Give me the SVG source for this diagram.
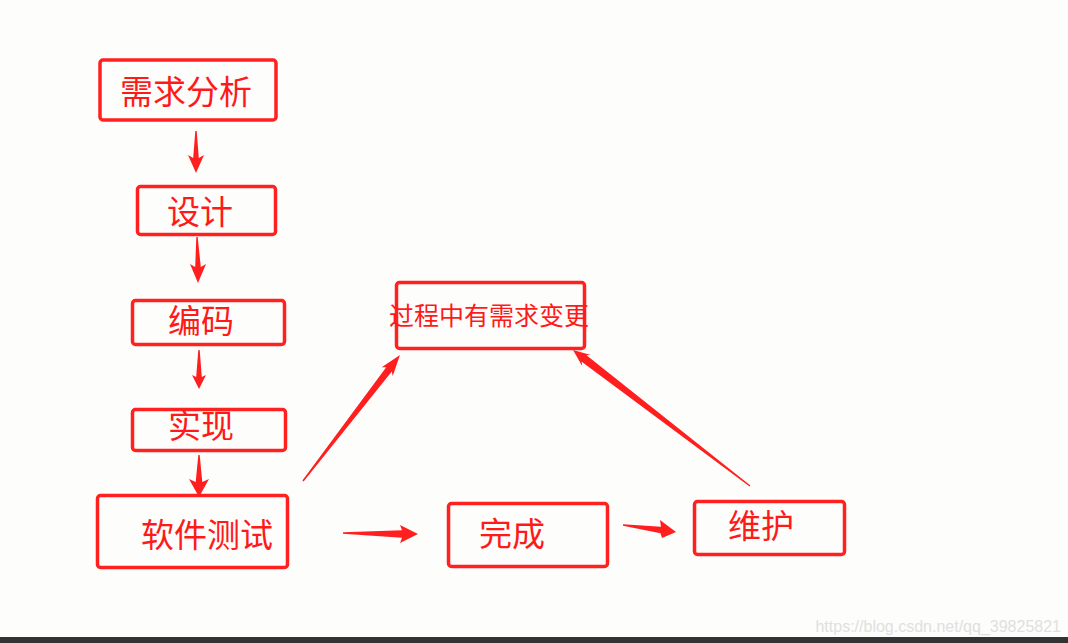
<svg xmlns="http://www.w3.org/2000/svg" width="1068" height="643" viewBox="0 0 1068 643">
<style>
.box{fill:none;stroke:#ff2020;stroke-width:3.5;}
.lbl{fill:#ff1a1a;font-family:"Noto Sans CJK SC","Noto Sans",sans-serif;font-size:33px;text-anchor:middle;dominant-baseline:central;}
.arr{fill:#ff1f1f;}
</style>
<rect x="0" y="0" width="1068" height="643" fill="#fdfdfb"/>
<rect x="0" y="637" width="1068" height="6" fill="#333333"/>
<g id="n1"><rect class="box" x="100" y="60" width="176" height="60" rx="3"/><text class="lbl" x="186" y="90">需求分析</text></g>
<g id="n2"><rect class="box" x="137.5" y="186.5" width="138" height="48" rx="3"/><text class="lbl" x="200" y="210">设计</text></g>
<g id="n3"><rect class="box" x="132.5" y="300.5" width="152" height="44" rx="3"/><text class="lbl" x="201" y="319">编码</text></g>
<g id="n4"><rect class="box" x="132.5" y="409.5" width="153" height="41" rx="3"/><text class="lbl" x="201" y="424">实现</text></g>
<g id="n5"><rect class="box" x="97.5" y="495.5" width="190" height="72" rx="3"/><text class="lbl" x="207" y="533">软件测试</text></g>
<g id="n6"><rect class="box" x="396.5" y="282.5" width="188" height="66" rx="3"/><text class="lbl" x="489" y="314" style="font-size:25px">过程中有需求变更</text></g>
<g id="n7"><rect class="box" x="448.5" y="503.5" width="159" height="63" rx="3"/><text class="lbl" x="512" y="532">完成</text></g>
<g id="n8"><rect class="box" x="694.5" y="501.5" width="150" height="53" rx="3"/><text class="lbl" x="761" y="524">维护</text></g>
<g id="connectors">
<polygon class="arr" points="195.3,131 196.7,131 198.8,158 204,155 196,173 188,155 193.2,158"/>
<polygon class="arr" points="196.3,237 197.7,237 200.8,267 206,264 198,283 190,264 195.2,267"/>
<polygon class="arr" points="198.3,350 199.7,350 201.8,377 206,375 199,389 192,375 196.2,377"/>
<polygon class="arr" points="198.3,455 199.7,455 202.3,482 209,479 199,497 189,479 195.7,482"/>
<polygon class="arr" points="303.6,481.4 391.8,371.4 392.7,375.9 400,355 381.7,367.3 386.2,367.2 302.4,480.6"/>
<polygon class="arr" points="750.4,485.5 586.5,355.3 590.8,354.9 573,350 582.2,366 581.7,361.7 749.6,486.5"/>
<polygon class="arr" points="343,532.3 402,530.2 400,525 418,534 400,543 402,537.8 343,533.7"/>
<polygon class="arr" points="623,524.3 661,526.7 660,520 676,532 662,538 660.5,533.3 623,525.7"/>
</g>
<text x="1061" y="632" text-anchor="end" style="fill:#e0e0e0;font-family:'Liberation Sans',Arial,sans-serif;font-size:16px">https://blog.csdn.net/qq_39825821</text>
</svg>
